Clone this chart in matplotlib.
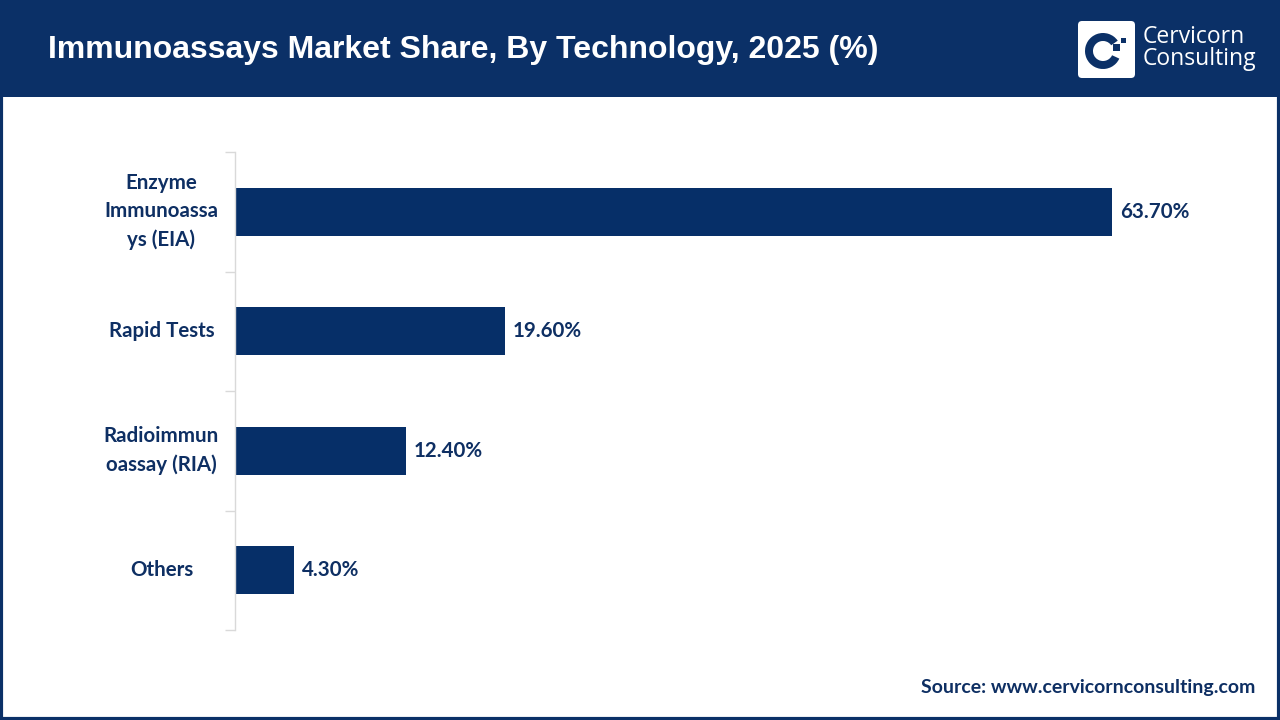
import matplotlib.pyplot as plt
from matplotlib.patches import Rectangle, FancyBboxPatch, Wedge

categories = ['Enzyme\nImmunoassa\nys (EIA)', 'Rapid Tests', 'Radioimmun\noassay (RIA)', 'Others']
shares = [63.70, 19.60, 12.40, 4.30]
value_labels = ['63.70%', '19.60%', '12.40%', '4.30%']

navy = '#0b3067'
bar_color = '#062f68'
text_color = '#0e2f63'
lab_font = 'Lato'

fig = plt.figure(figsize=(12.8, 7.2), dpi=100)
fig.patch.set_facecolor('white')

# header band (drawn under the logo axes)
fig.patches.append(Rectangle((0, 1 - 97 / 720), 1, 97 / 720, transform=fig.transFigure,
                             facecolor='#0b3067', edgecolor='none', zorder=-1))
# border
fig.patches.append(Rectangle((0.001, 0.002), 0.998, 0.996, transform=fig.transFigure,
                             facecolor='none', edgecolor=navy, linewidth=3, zorder=5))

fig.text(48 / 1280, 1 - 50 / 720, 'Immunoassays Market Share, By Technology, 2025 (%)',
         color='white', fontsize=23, fontweight='bold', family='Liberation Sans',
         va='center', ha='left')

# logo
lax = fig.add_axes([1078 / 1280, 1 - 78 / 720, 57 / 1280, 57 / 720])
lax.set_xlim(0, 57)
lax.set_ylim(0, 57)
lax.axis('off')
lax.add_patch(FancyBboxPatch((0, 0), 57, 57, boxstyle='round,pad=0,rounding_size=4',
                             facecolor='white', edgecolor='none'))
lax.add_patch(Wedge((25, 27), 18, 35, 335, width=8, facecolor=navy, edgecolor='none'))
lax.add_patch(Rectangle((35, 27), 7, 7, facecolor=navy, edgecolor='none'))
lax.add_patch(Rectangle((43, 35), 5, 5, facecolor=navy, edgecolor='none'))
fig.text(1143 / 1280, 1 - 37 / 720, 'Cervicorn', color='white', fontsize=16.5,
         family='Open Sans', va='center', ha='left')
fig.text(1143 / 1280, 1 - 59 / 720, 'Consulting', color='white', fontsize=16.5,
         family='Open Sans', va='center', ha='left')

# chart
ax = fig.add_axes([235 / 1280, 1 - 630 / 720, 1000 / 1280, 478 / 720])
y = list(range(len(categories)))
ax.barh(y, shares, height=0.4, color=bar_color)
ax.set_ylim(3.5, -0.5)
ax.set_xlim(0, 1000 / 13.77)
ax.set_yticks(y)
ax.set_yticklabels(categories, fontsize=14.8, fontweight='bold', family=lab_font,
                   color=text_color, ha='center', va='center', linespacing=1.5)
ax.tick_params(axis='y', which='major', length=0, pad=53)
ax.set_yticks([-0.5, 0.5, 1.5, 2.5, 3.5], minor=True)
ax.tick_params(axis='y', which='minor', length=7, color='#d9d9d9', width=1)
ax.set_xticks([])
for s in ['top', 'right', 'bottom']:
    ax.spines[s].set_visible(False)
ax.spines['left'].set_color('#d9d9d9')
ax.spines['left'].set_linewidth(1)
for yi, v, lab in zip(y, shares, value_labels):
    ax.text(v + 0.55, yi, lab, va='center', ha='left', fontsize=14.8,
            fontweight='bold', family=lab_font, color=text_color)

fig.text(1255 / 1280, 1 - 687 / 720, 'Source: www.cervicornconsulting.com',
         color=text_color, fontsize=14, fontweight='bold', family=lab_font,
         va='center', ha='right')

fig.savefig('out.png', dpi=100, facecolor='white')
